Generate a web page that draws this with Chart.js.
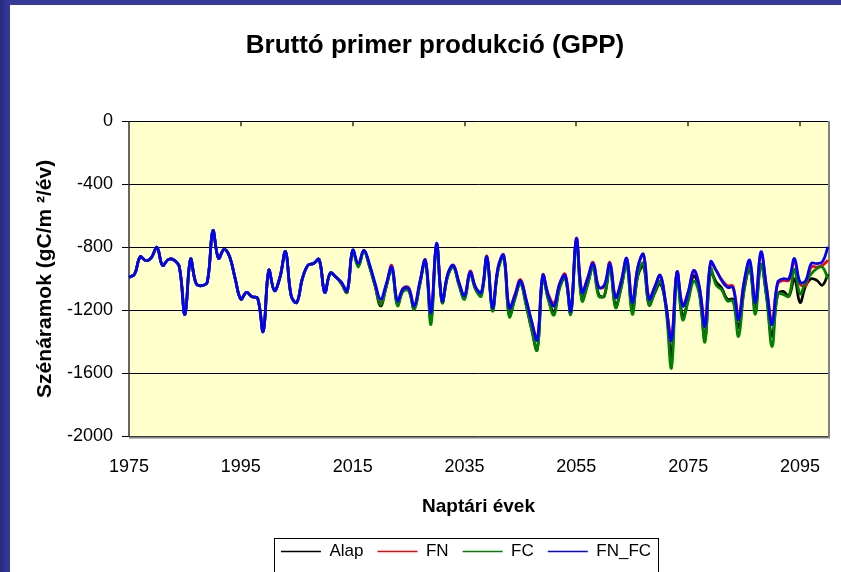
<!DOCTYPE html>
<html>
<head>
<meta charset="utf-8">
<script src="https://cdn.jsdelivr.net/npm/chart.js@4.4.0/dist/chart.umd.min.js"></script>
<style>
  html, body { margin: 0; padding: 0; overflow: hidden; }
  body { width: 841px; height: 572px; background: linear-gradient(to right, #262a7e, #363a9c 10px); }
  #panel { position: absolute; left: 10px; top: 5px; width: 831px; height: 567px; background: #fff; overflow: hidden; }
  canvas { display: block; }
</style>
</head>
<body>
<div id="panel"><canvas id="gppChart" width="831" height="590"></canvas></div>
<script>
// years on the category axis, 1975..2100
const years = [1975, 1976, 1977, 1978, 1979, 1980, 1981, 1982, 1983, 1984,
  1985, 1986, 1987, 1988, 1989, 1990, 1991, 1992, 1993, 1994,
  1995, 1996, 1997, 1998, 1999, 2000, 2001, 2002, 2003, 2004,
  2005, 2006, 2007, 2008, 2009, 2010, 2011, 2012, 2013, 2014,
  2015, 2016, 2017, 2018, 2019, 2020, 2021, 2022, 2023, 2024,
  2025, 2026, 2027, 2028, 2029, 2030, 2031, 2032, 2033, 2034,
  2035, 2036, 2037, 2038, 2039, 2040, 2041, 2042, 2043, 2044,
  2045, 2046, 2047, 2048, 2049, 2050, 2051, 2052, 2053, 2054,
  2055, 2056, 2057, 2058, 2059, 2060, 2061, 2062, 2063, 2064,
  2065, 2066, 2067, 2068, 2069, 2070, 2071, 2072, 2073, 2074,
  2075, 2076, 2077, 2078, 2079, 2080, 2081, 2082, 2083, 2084,
  2085, 2086, 2087, 2088, 2089, 2090, 2091, 2092, 2093, 2094,
  2095, 2096, 2097, 2098, 2099, 2100];
const xTickLabels = ['1975', '1995', '2015', '2035', '2055', '2075', '2095'];

// 1975-2012: all four runs are the same
const sharedHistory = [-990, -970, -860, -885, -865, -800, -915, -878, -880, -925,
  -1226, -875, -1030, -1043, -1020, -695, -870, -813, -860, -1000,
  -1129, -1086, -1114, -1122, -1333, -946, -1075, -989, -828, -1107,
  -1150, -999, -914, -903, -877, -1086, -963, -989];

// 2013-2100 per scenario
const alapFuture = [-1030, -1085, -820, -920, -822, -920, -1045, -1172, -1050, -935,
  -1165, -1075, -1070, -1190, -1035, -888, -1258, -783, -1150, -980,
  -922, -1035, -1122, -965, -1065, -1100, -868, -1195, -940, -860,
  -1230, -1125, -1025, -1160, -1320, -1450, -990, -1130, -1210, -1055,
  -990, -1220, -758, -1130, -1035, -920, -1100, -1110, -920, -1172,
  -1055, -900, -1200, -980, -920, -1165, -1090, -1030, -1170, -1490,
  -957, -1240, -1130, -980, -1085, -1380, -957, -1020, -1060, -1130,
  -1130, -1310, -1070, -935, -1190, -908, -1110, -1365, -1100, -1080,
  -1110, -1000, -1150, -1045, -1000, -1010, -1040, -970];
const fnFuture = [-1030, -1085, -820, -910, -820, -915, -1040, -1150, -1040, -915,
  -1150, -1060, -1055, -1180, -1025, -880, -1225, -780, -1140, -970,
  -912, -1025, -1110, -950, -1055, -1090, -855, -1190, -930, -848,
  -1190, -1100, -1005, -1130, -1270, -1380, -975, -1100, -1155, -1030,
  -970, -1200, -742, -1080, -995, -895, -1050, -1050, -895, -1115,
  -1015, -871, -1145, -925, -845, -1125, -1050, -978, -1155, -1370,
  -957, -1165, -1080, -946, -1050, -1280, -903, -946, -1005, -1043,
  -1045, -1236, -1015, -892, -1150, -835, -1050, -1268, -1032, -1010,
  -1010, -888, -1032, -1043, -925, -925, -914, -882];
const fcFuture = [-1030, -1085, -822, -925, -825, -920, -1040, -1165, -1050, -940,
  -1170, -1080, -1075, -1195, -1040, -890, -1290, -785, -1150, -985,
  -925, -1040, -1130, -970, -1070, -1110, -870, -1205, -945, -860,
  -1240, -1130, -1030, -1165, -1320, -1450, -995, -1135, -1230, -1060,
  -995, -1225, -760, -1140, -1040, -925, -1110, -1105, -920, -1183,
  -1060, -910, -1225, -975, -900, -1165, -1085, -1015, -1180, -1565,
  -990, -1260, -1140, -1015, -1100, -1400, -935, -1040, -1070, -1140,
  -1140, -1365, -1070, -925, -1225, -908, -1110, -1430, -1095, -1100,
  -1110, -940, -1095, -1020, -968, -935, -925, -1000];
const fnfcFuture = [-1021, -1075, -817, -903, -817, -905, -1025, -1129, -1032, -925,
  -1140, -1064, -1060, -1172, -1021, -882, -1215, -774, -1140, -968,
  -914, -1021, -1107, -957, -1054, -1086, -860, -1183, -925, -850,
  -1183, -1107, -1011, -1129, -1269, -1387, -978, -1107, -1172, -1032,
  -978, -1204, -745, -1086, -1000, -903, -1054, -1040, -903, -1118,
  -1021, -871, -1150, -925, -845, -1129, -1054, -978, -1161, -1390,
  -957, -1172, -1086, -946, -1054, -1301, -892, -946, -1011, -1054,
  -1054, -1258, -1021, -882, -1150, -828, -1054, -1290, -1021, -999,
  -999, -871, -1021, -1011, -903, -903, -892, -796];

const FONT = "Arial, 'Liberation Sans', sans-serif";

function series(label, values, color, order) {
  return {
    label: label,
    data: sharedHistory.concat(values),
    borderColor: color,
    backgroundColor: color,
    borderWidth: 2.75,
    pointRadius: 0,
    tension: 0.4,
    fill: false,
    order: order
  };
}

// yellow plot background + excel-ish frame
const plotFrame = {
  id: 'plotFrame',
  beforeDraw(chart) {
    const { ctx, chartArea: a } = chart;
    ctx.save();
    ctx.fillStyle = '#FFFFCC';
    ctx.fillRect(a.left, a.top, a.right - a.left, a.bottom - a.top);
    ctx.restore();
  },
  beforeDatasetsDraw(chart) {
    const { ctx, chartArea: a } = chart;
    const xs = chart.scales.x;
    ctx.save();
    ctx.strokeStyle = '#808080';
    ctx.lineWidth = 2;
    ctx.beginPath();
    ctx.moveTo(a.left, a.bottom + 1);
    ctx.lineTo(a.right + 1, a.bottom + 1);
    ctx.lineTo(a.right + 1, a.top);
    ctx.stroke();
    ctx.strokeStyle = '#333';
    ctx.lineWidth = 1.5;
    ctx.beginPath();
    ctx.moveTo(a.left, a.top);
    ctx.lineTo(a.left, a.bottom);
    // small category ticks hanging from the zero line
    xTickLabels.forEach(lbl => {
      const px = Math.round(xs.getPixelForValue(years.indexOf(Number(lbl))));
      ctx.moveTo(px, a.top);
      ctx.lineTo(px, a.top + 5);
    });
    ctx.stroke();
    ctx.restore();
  }
};

// legend sits right of center, inside a box
const legendFrame = {
  id: 'legendFrame',
  afterLayout(chart) {
    const lg = chart.legend;
    lg.left += 31;
    lg.right += 31;
  },
  afterDraw(chart) {
    const boxes = chart.legend.legendHitBoxes;
    if (!boxes || !boxes.length) return;
    const first = boxes[0], last = boxes[boxes.length - 1];
    const left = Math.round(first.left - 7) + 0.5;
    const right = Math.round(last.left + last.width + 7) + 0.5;
    const top = Math.round(first.top - 5.5) + 0.5;
    const ctx = chart.ctx;
    ctx.save();
    ctx.strokeStyle = '#000';
    ctx.lineWidth = 1;
    ctx.strokeRect(left, top, right - left, chart.height);
    ctx.restore();
  }
};

new Chart(document.getElementById('gppChart'), {
  type: 'line',
  data: {
    labels: years,
    datasets: [
      series('Alap', alapFuture, '#000000', 4),
      series('FN', fnFuture, '#FF0000', 3),
      series('FC', fcFuture, '#008000', 2),
      series('FN_FC', fnfcFuture, '#0000FF', 1)
    ]
  },
  options: {
    responsive: false,
    animation: false,
    layout: { padding: { left: 32, right: 13, top: 0, bottom: 25 } },
    plugins: {
      tooltip: { enabled: false },
      title: {
        display: true,
        text: 'Bruttó primer produkció (GPP)',
        color: '#000',
        font: { family: FONT, size: 26, weight: 'bold' },
        padding: { top: 25, bottom: 60 }
      },
      legend: {
        position: 'bottom',
        labels: {
          usePointStyle: true,
          pointStyle: 'line',
          pointStyleWidth: 40,
          color: '#000',
          font: { family: FONT, size: 17 },
          padding: 14,
          sort: (a, b) => a.datasetIndex - b.datasetIndex,
          generateLabels(chart) {
            return Chart.defaults.plugins.legend.labels.generateLabels(chart)
              .map(it => Object.assign(it, { lineWidth: 1.5 }));
          }
        }
      }
    },
    scales: {
      x: {
        type: 'category',
        offset: false,
        grid: { display: false, drawTicks: false },
        border: { display: false },
        ticks: {
          autoSkip: false,
          maxRotation: 0,
          padding: 20,
          color: '#000',
          font: { family: FONT, size: 18 },
          callback(value, index) {
            const y = String(years[index]);
            return xTickLabels.includes(y) ? y : null;
          }
        },
        title: {
          display: true,
          text: 'Naptári évek',
          color: '#000',
          font: { family: FONT, size: 19, weight: 'bold' },
          padding: { top: 0, bottom: 11 }
        },
        afterFit(scale) { scale.height = 92.5; }
      },
      y: {
        min: -2000,
        max: 0,
        ticks: {
          stepSize: 400,
          padding: 9,
          color: '#000',
          font: { family: FONT, size: 18 },
          callback: v => String(v)
        },
        grid: { color: '#000', lineWidth: 1, tickLength: 7, tickColor: '#000' },
        border: { display: false },
        title: {
          display: true,
          text: 'Szénáramok (gC/m ²/év)',
          color: '#000',
          font: { family: FONT, size: 21, weight: 'bold' },
          padding: { top: -9, bottom: 0 }
        },
        afterFit(scale) { scale.width = 87; }
      }
    }
  },
  plugins: [plotFrame, legendFrame]
});
</script>
</body>
</html>
